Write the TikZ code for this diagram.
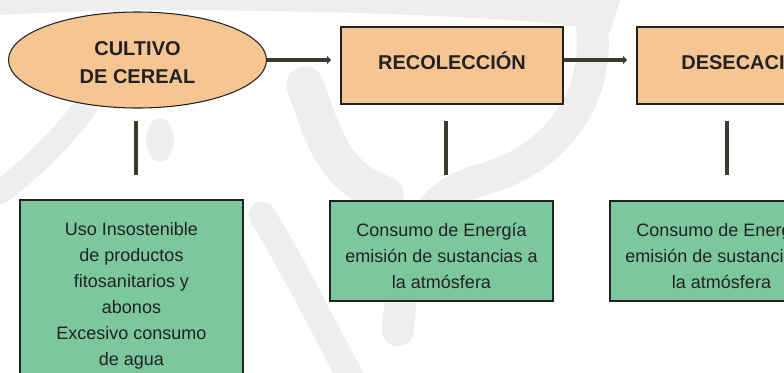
\documentclass[tikz,border=0pt]{standalone}
\usepackage{fontspec}
\setmainfont{Liberation Sans}
\usetikzlibrary{arrows.meta,shapes.geometric}
\definecolor{orangefill}{HTML}{F5C593}
\definecolor{greenfill}{HTML}{7DC79F}
\definecolor{linecol}{HTML}{3B3A2C}
\definecolor{textcol}{HTML}{222222}
\definecolor{wmark}{HTML}{EEEEEE}
\tikzset{
  stage/.style={draw=textcol, line width=0.8pt, fill=orangefill, text=textcol,
    font=\fontsize{15}{21}\selectfont\bfseries, align=center, inner sep=0pt},
  stagebox/.style={stage, rectangle, minimum width=166.5pt, minimum height=57.75pt,
    text height=11pt, text depth=5.5pt},
  stageell/.style={stage, ellipse, minimum width=193.5pt, minimum height=72pt,
    text height=34.7pt, text depth=0pt},
  impact/.style={draw=textcol, line width=0.8pt, fill=greenfill, text=textcol, rectangle,
    font=\fontsize{13.5}{19.5}\selectfont, align=center, inner sep=0pt,
    minimum width=167.25pt},
  flow/.style={draw=linecol, line width=3pt, -{Triangle[length=3pt,width=6pt]}, shorten >=7pt},
  link/.style={draw=linecol, line width=3pt},
  wm/.style={draw=wmark, line cap=round, line join=round},
}
\begin{document}
\begin{tikzpicture}[x=0.75pt,y=-0.75pt]
\useasboundingbox (0,0) rectangle (784,372);
\clip (0,0) rectangle (784,372);
\fill[white] (0,0) rectangle (784,372);

% faint watermark strokes in the background
\fill[wmark] (0,0) -- (620,0) -- (610,32) .. controls (560,20) and (400,12) .. (200,10) .. controls (120,9) and (60,12) .. (0,15) -- cycle;
\draw[wm, line width=24pt] (590,15) .. controls (605,90) and (560,160) .. (480,180) .. controls (430,195) and (405,230) .. (398,330);
\draw[wm, line width=28pt] (305,85) .. controls (322,130) and (330,175) .. (385,195);
\draw[wm, line width=20pt] (262,215) .. controls (290,260) and (320,320) .. (352,380);
\draw[wm, line width=18pt] (85,108) .. controls (60,140) and (30,170) .. (0,192);
\fill[wmark] (160,140) ellipse [x radius=14, y radius=22];

% stages
\node[stageell] (cult) at (137.5,60) {CULTIVO\\DE CEREAL};
\node[stagebox] (reco) at (452,65.5) {RECOLECCIÓN};
\node[stagebox] (dese) at (748,65.5) {DESECACIÓN};

% flows
\draw[flow] (cult.east) -- (cult -| reco.west);
\draw[flow] (reco.east |- cult) -- (cult -| dese.west);

% impacts
\node[impact, minimum height=133.5pt, text height=117.9pt, text depth=2.8pt] (imp1) at (131.5,289) {Uso Insostenible\\de productos\\fitosanitarios y\\abonos\\Excesivo consumo\\de agua};
\node[impact, minimum height=75pt, text height=56.35pt, text depth=0pt] (imp2) at (441.5,251) {Consumo de Energía\\emisión de sustancias a\\la atmósfera};
\node[impact, minimum height=75pt, text height=56.35pt, text depth=0pt] (imp3) at (721.5,251) {Consumo de Energía\\emisión de sustancias a\\la atmósfera};

% links
\coordinate (l1a) at (136,121); \coordinate (l1b) at (136,175);
\coordinate (l2a) at (446,121); \coordinate (l2b) at (446,175);
\coordinate (l3a) at (727,121); \coordinate (l3b) at (727,175);
\draw[link] (l1a) -- (l1b);
\draw[link] (l2a) -- (l2b);
\draw[link] (l3a) -- (l3b);
\end{tikzpicture}
\end{document}
